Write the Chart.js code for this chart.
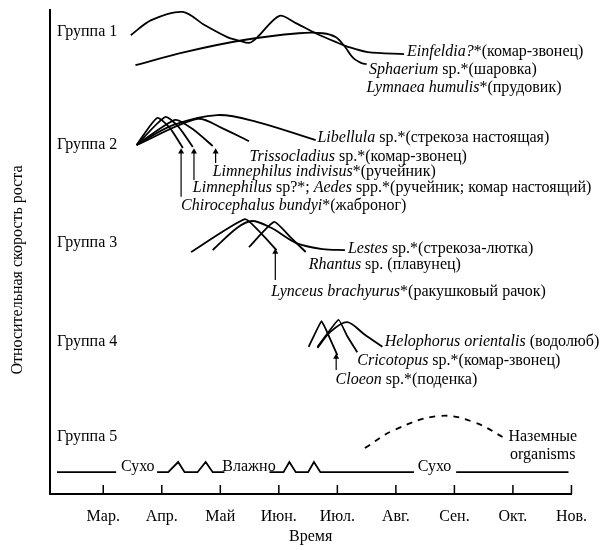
<!DOCTYPE html>
<html>
<head>
<meta charset="utf-8">
<script src="https://cdn.jsdelivr.net/npm/chart.js@4"></script>
<style>
  body { margin: 0; background: #fff; }
  #wrap { width: 600px; height: 550px; }
</style>
</head>
<body>
<div id="wrap"><canvas id="myChart" width="600" height="550"></canvas></div>
<script>
// Months on the time axis (Mar. = 1 ... Nov. = 9).
const months = ["Мар.", "Апр.", "Май", "Июн.", "Июл.", "Авг.", "Сен.", "Окт.", "Нов."];
const monthPos = [1, 2, 3, 4, 5, 6, 7, 8, 9];

// Group 1
const einfeldiaX = [1.47, 1.82, 2.36, 2.73, 3.12, 3.34, 3.49, 3.62, 4.01, 4.29, 4.63, 4.97, 5.18, 5.52, 6.14];
const einfeldiaY = [94.8, 97.9, 99.6, 96.9, 94.4, 93.6, 93.2, 94.2, 98.8, 97.3, 95.2, 93.4, 92.4, 91.3, 90.9];
const sphaeriumX = [1.55, 2.39, 3.40, 4.34, 4.75, 4.97, 5.13, 5.27, 5.42, 5.50];
const sphaeriumY = [88.6, 91.3, 93.8, 95.2, 95.2, 94.4, 92.4, 90.1, 89.0, 88.8];

// Group 2
const chiroX = [1.57, 1.92, 2.14, 2.36];
const chiroY = [72.1, 77.7, 75.6, 71.5];
const limnSpX = [1.57, 2.06, 2.29, 2.53];
const limnSpY = [72.1, 77.9, 75.8, 71.7];
const limnIndX = [1.57, 2.23, 2.55, 2.87];
const limnIndY = [72.1, 77.3, 75.2, 71.9];
const trissoX = [1.57, 2.61, 3.03, 3.49];
const trissoY = [72.1, 77.5, 75.6, 72.9];
const libellulaX = [1.57, 2.19, 2.95, 3.62, 4.63];
const libellulaY = [72.1, 76.2, 78.3, 76.9, 73.1];

// Group 3
const lynceusX = [2.50, 3.42, 3.71, 3.96];
const lynceusY = [50.0, 56.8, 53.7, 50.4];
const lestesX = [2.87, 3.29, 3.54, 3.87, 4.29, 4.75, 5.13];
const lestesY = [50.4, 55.0, 56.4, 55.0, 51.9, 50.6, 50.4];
const rhantusX = [3.49, 3.92, 4.21, 4.46];
const rhantusY = [51.0, 56.2, 52.9, 50.0];

// Group 4
const cloeonX = [4.51, 4.73, 4.87, 5.00];
const cloeonY = [30.4, 35.7, 32.2, 28.7];
const cricoX = [4.66, 5.02, 5.17, 5.34];
const cricoY = [30.4, 36.0, 32.6, 29.3];
const heloX = [4.66, 4.88, 5.17, 5.47, 5.77];
const heloY = [30.2, 33.5, 35.5, 32.9, 30.4];

// Group 5: dry / wet line and terrestrial organisms
const seasonX = [0.21, 1.22, null, 1.92, 2.11, 2.28, 2.39, 2.61, 2.75, 2.87, 3.07, null,
                 3.84, 4.08, 4.18, 4.29, 4.50, 4.60, 4.71, 6.31, null, 7.03, 8.95];
const seasonY = [4.5, 4.5, null, 4.5, 4.5, 6.6, 4.5, 4.5, 6.6, 4.5, 4.5, null,
                 4.5, 4.5, 6.6, 4.5, 4.5, 6.6, 4.5, 4.5, null, 4.5, 4.5];
const landX = [5.47, 5.97, 6.73, 7.32, 7.91];
const landY = [9.5, 13.2, 16.1, 14.9, 11.2];

// Arrows: [x, yFrom, yTo]
const arrows = [
  [2.33, 61.4, 70.7],
  [2.55, 64.9, 70.7],
  [2.92, 68.4, 70.7],
  [3.94, 44.2, 50.0],
  [4.98, 25.6, 28.3],
];

// Text notes; parts between "_" are italic.
const notes = [
  [0.21, 95.5, "Группа 1"],
  [0.21, 72.1, "Группа 2"],
  [0.21, 51.9, "Группа 3"],
  [0.21, 31.4, "Группа 4"],
  [0.21, 11.8, "Группа 5"],
  [6.19, 91.3, "_Einfeldia?_*(комар-звонец)"],
  [5.54, 87.6, "_Sphaerium_ sp.*(шаровка)"],
  [5.50, 83.9, "_Lymnaea humulis_*(прудовик)"],
  [4.66, 73.6, "_Libellula_ sp.*(стрекоза настоящая)"],
  [3.50, 69.6, "_Trissocladius_ sp.*(комар-звонец)"],
  [2.87, 66.5, "_Limnephilus indivisus_*(ручейник)"],
  [2.53, 63.2, "_Limnephilus_ sp?*; _Aedes_ spp.*(ручейник; комар настоящий)"],
  [2.33, 59.5, "_Chirocephalus bundyi_*(жаброног)"],
  [5.18, 50.6, "_Lestes_ sp.*(стрекоза-лютка)"],
  [4.51, 47.3, "_Rhantus_ sp. (плавунец)"],
  [3.87, 41.7, "_Lynceus brachyurus_*(ракушковый рачок)"],
  [5.81, 31.4, "_Helophorus orientalis_ (водолюб)"],
  [5.34, 27.5, "_Cricotopus_ sp.*(комар-звонец)"],
  [4.97, 23.6, "_Cloeon_ sp.*(поденка)"],
];
const centeredNotes = [
  [1.59, 5.6, "Сухо"],
  [3.49, 5.6, "Влажно"],
  [6.66, 5.6, "Сухо"],
  [8.51, 11.8, "Наземные"],
  [8.51, 8.1, "organisms"],
];
const yTitle = "Относительная скорость роста";

const FONT = "Liberation Serif, Times New Roman, serif";
const SIZE = 16;

function pts(xs, ys) {
  return xs.map((x, i) => ({ x: x, y: ys[i] }));
}

function curve(xs, ys, tension) {
  return {
    data: pts(xs, ys),
    borderColor: "#000",
    borderWidth: 1.8,
    pointRadius: 0,
    tension: tension,
    fill: false,
  };
}

const datasets = [
  curve(einfeldiaX, einfeldiaY, 0.3),
  curve(sphaeriumX, sphaeriumY, 0.35),
  curve(chiroX, chiroY, 0.2),
  curve(limnSpX, limnSpY, 0.2),
  curve(limnIndX, limnIndY, 0.2),
  curve(trissoX, trissoY, 0.3),
  curve(libellulaX, libellulaY, 0.35),
  curve(lynceusX, lynceusY, 0.15),
  curve(lestesX, lestesY, 0.35),
  curve(rhantusX, rhantusY, 0.15),
  curve(cloeonX, cloeonY, 0.1),
  curve(cricoX, cricoY, 0.1),
  curve(heloX, heloY, 0.3),
  Object.assign(curve(seasonX, seasonY, 0), { spanGaps: false }),
  Object.assign(curve(landX, landY, 0.4), { borderDash: [6, 6] }),
];

arrows.forEach(a => {
  datasets.push({
    data: [{ x: a[0], y: a[1] }, { x: a[0], y: a[2] }],
    borderColor: "#000",
    borderWidth: 1.2,
    pointStyle: "triangle",
    pointRadius: [0, 3.5],
    pointBackgroundColor: "#000",
    pointBorderWidth: 0,
    tension: 0,
  });
});

function drawParts(ctx, text, px, py, center) {
  const parts = text.split("_");
  const fonts = parts.map((p, i) => (i % 2 ? "italic " : "") + SIZE + "px " + FONT);
  let total = 0;
  parts.forEach((p, i) => { ctx.font = fonts[i]; total += ctx.measureText(p).width; });
  let cx = center ? px - total / 2 : px;
  parts.forEach((p, i) => {
    ctx.font = fonts[i];
    ctx.fillText(p, cx, py);
    cx += ctx.measureText(p).width;
  });
}

const notesPlugin = {
  id: "notes",
  afterDatasetsDraw(chart) {
    const { ctx, chartArea, scales: { x, y } } = chart;
    ctx.save();
    // tick marks pointing into the plot
    ctx.strokeStyle = "#000";
    ctx.lineWidth = 1.5;
    const base = y.getPixelForValue(0);
    monthPos.forEach(m => {
      const px = x.getPixelForValue(m);
      ctx.beginPath();
      ctx.moveTo(px, base);
      ctx.lineTo(px, base - 9);
      ctx.stroke();
    });
    ctx.fillStyle = "#000";
    ctx.textBaseline = "middle";
    ctx.textAlign = "left";
    notes.forEach(n => drawParts(ctx, n[2], x.getPixelForValue(n[0]), y.getPixelForValue(n[1]), false));
    centeredNotes.forEach(n => drawParts(ctx, n[2], x.getPixelForValue(n[0]), y.getPixelForValue(n[1]), true));
    // rotated y-axis title, a bit below the middle as in the original
    ctx.translate(y.left + 18, (chartArea.top + chartArea.bottom) / 2 + 18);
    ctx.rotate(-Math.PI / 2);
    ctx.textAlign = "center";
    ctx.font = SIZE + "px " + FONT;
    ctx.fillText(yTitle, 0, 0);
    ctx.restore();
  },
};

const config = {
  type: "line",
  data: { datasets: datasets },
  options: {
    responsive: false,
    animation: false,
    devicePixelRatio: 1,
    layout: { padding: { top: 10, right: 20, left: 0, bottom: 0 } },
    plugins: { legend: { display: false }, tooltip: { enabled: false } },
    scales: {
      x: {
        type: "linear",
        min: 0.09,
        max: 9,
        afterBuildTicks: s => { s.ticks = monthPos.map(v => ({ value: v })); },
        afterFit: s => { s.height = 56; },
        ticks: {
          callback: v => months[monthPos.indexOf(v)],
          font: { family: FONT, size: SIZE },
          color: "#000",
          padding: 13,
          maxRotation: 0,
          autoSkip: false,
        },
        grid: { display: false, drawTicks: false },
        border: { display: true, color: "#000", width: 2 },
        title: {
          display: true,
          text: "Время",
          font: { family: FONT, size: SIZE },
          color: "#000",
          padding: { top: 0, bottom: 4 },
        },
      },
      y: {
        min: 0,
        max: 100,
        afterFit: s => { s.width = 50; },
        ticks: { display: false },
        grid: { display: false, drawTicks: false },
        border: { display: true, color: "#000", width: 2 },
      },
    },
  },
  plugins: [notesPlugin],
};

let myChart = new Chart(document.getElementById("myChart"), config);
</script>
</body>
</html>
